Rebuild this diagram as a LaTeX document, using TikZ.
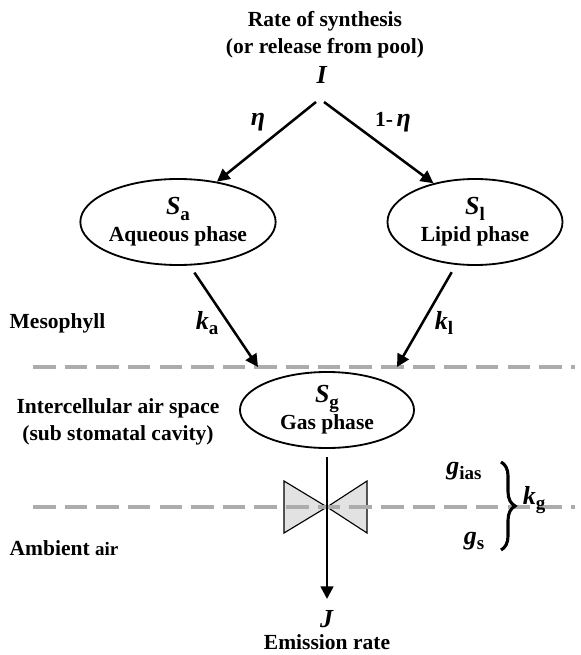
\documentclass[tikz,border=0pt]{standalone}
\usepackage{fontspec}
\setmainfont{Liberation Serif}
\usetikzlibrary{arrows.meta,calc,shapes.geometric,decorations.pathreplacing}
\definecolor{LineGrey}{RGB}{172,172,172}
\definecolor{ValveGrey}{RGB}{226,226,226}
% bold italic quantity and its upright subscript
\newcommand{\qvar}[1]{{\fontsize{18.5}{18.5}\selectfont\textbf{\textit{#1}}}}
\newcommand{\lowsub}[1]{\raisebox{-0.55ex}{\fontsize{13.5}{13.5}\selectfont\bfseries #1}}
\tikzset{
  lbl/.style={font=\fontsize{15.3}{19}\selectfont\bfseries, align=center, inner sep=1pt},
  pool/.style={lbl, draw, ellipse, line width=1.3pt, inner sep=0pt},
  flux/.style={-{Triangle[length=9pt,width=9pt]}, line width=1.8pt},
  layerline/.style={draw=LineGrey, line width=2.2pt, dash pattern=on 16pt off 6.5pt},
  valve/.style={draw, fill=ValveGrey, line width=0.8pt, line join=miter},
}

\begin{document}
\begin{tikzpicture}[x=0.025cm, y=-0.025cm]
  \useasboundingbox (0,0) rectangle (580,655);

  % source
  \node[lbl] (src) at (325,35) {Rate of synthesis\\(or release from pool)};
  \node[lbl] (I) at (322,75) {\qvar{I}};

  % pools
  \node[pool, minimum width=4.375cm, minimum height=2.15cm] (Sa) at (178,222)
    {\qvar{S}\lowsub{a}\\Aqueous phase};
  \node[pool, minimum width=4.375cm, minimum height=2.15cm] (Sl) at (475,222)
    {\qvar{S}\lowsub{l}\\Lipid phase};
  \node[pool, minimum width=4.35cm, minimum height=1.9cm] (Sg) at (327,410)
    {\qvar{S}\lowsub{g}\\Gas phase};

  % compartments
  \node[lbl, anchor=west] (meso) at (8,323) {Mesophyll};
  \node[lbl] (ias) at (118,422) {Intercellular air space\\(sub stomatal cavity)};
  \node[lbl, anchor=west] (amb) at (8,548) {Ambient {\fontsize{13.5}{13.5}\selectfont air}};

  \draw[layerline] (33,367) -- (575,367);

  % stomatal valve
  \coordinate (vc) at (327,507);
  \draw[valve] (vc) -- ++(-43,-26) -- ++(0,52) -- cycle;
  \draw[valve] (vc) -- ++(40,-26) -- ++(0,52) -- cycle;
  \draw[layerline] (33,507) -- (575,507);

  % outlet
  \node[lbl] (J) at (327,619) {\qvar{J}};
  \node[lbl] (emis) at (327,642) {Emission rate};
  \coordinate (Jtip) at (327,599);
  \coordinate (kaend) at (258,367);
  \coordinate (klend) at (397,367);

  % fluxes
  \draw[flux] ($(I)+(-6,27)$) -- (Sa.46);
  \draw[flux] ($(I)+(2,27)$) -- (Sl.137);
  \draw[flux, shorten <=6pt] (Sa.-75) -- (kaend);
  \draw[flux, shorten <=6pt] (Sl.-114) -- (klend);
  \draw[flux, shorten <=6pt] (Sg.south) -- (Jtip);

  \node[lbl] (eta) at (258,122) {\qvar{η}};
  \node[lbl] (eta1) at (393,122) {1-\,\qvar{η}};
  \node[lbl] (ka) at (207,323) {\qvar{k}\lowsub{a}};
  \node[lbl] (kl) at (444,323) {\qvar{k}\lowsub{l}};

  % conductances
  \draw[decorate, decoration={brace, amplitude=10pt}, line width=2.2pt]
    (501,462) -- (501,550);
  \node[lbl] (gias) at (464,471) {\qvar{g}\lowsub{ias}};
  \node[lbl] (gs) at (474,541) {\qvar{g}\lowsub{s}};
  \node[lbl] (kg) at (534,500) {\qvar{k}\lowsub{g}};
\end{tikzpicture}
\end{document}
